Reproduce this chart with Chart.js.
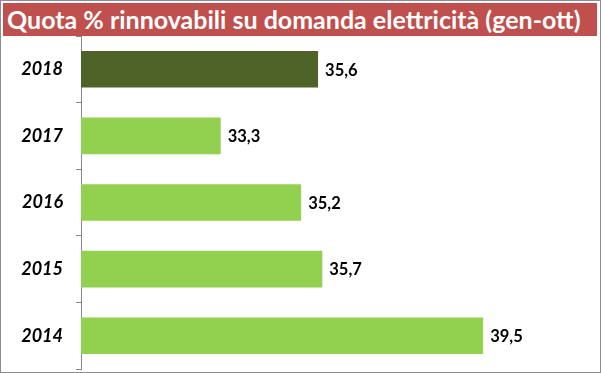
<!DOCTYPE html>
<html>
<head>
<meta charset="utf-8">
<script src="https://cdn.jsdelivr.net/npm/chart.js@4/dist/chart.umd.min.js"></script>
<style>
  html, body { margin: 0; padding: 0; background: #fff; }
  #frame { position: absolute; left: 0; top: 0; width: 599px; height: 371px; border: 1px solid #8c8c8c; }
  #banner { position: absolute; left: 3px; top: 3px; width: 594px; height: 33px; background: #C0504D;
    color: #fff; font-family: Lato, "Open Sans", sans-serif; font-weight: bold; font-size: 25px;
    line-height: 33px; white-space: nowrap; padding-left: 4px; box-sizing: border-box; overflow: hidden; }
  #wrap { position: absolute; left: 0; top: 0; width: 601px; height: 373px; }
</style>
</head>
<body>
<div id="frame"></div>
<div id="wrap"><canvas id="c" width="601" height="373"></canvas></div>
<div id="banner"></div>
<script>
const titleText = "Quota % rinnovabili su domanda elettricità (gen-ott)";
const categories = ["2018", "2017", "2016", "2015", "2014"];
const values = [35.6, 33.3, 35.2, 35.7, 39.5];
const barColors = ["#4F6228", "#92D050", "#92D050", "#92D050", "#92D050"];
const axisMin = 30;
const axisMax = 42;

document.getElementById('banner').textContent = titleText;

const valueLabels = {
  id: 'valueLabels',
  afterDatasetsDraw(chart) {
    const ctx = chart.ctx;
    const meta = chart.getDatasetMeta(0);
    ctx.save();
    ctx.font = 'bold 16.5px Lato, "Open Sans", sans-serif';
    ctx.fillStyle = '#000';
    ctx.textAlign = 'left';
    ctx.textBaseline = 'middle';
    meta.data.forEach((bar, i) => {
      const txt = values[i].toFixed(1).replace('.', ',');
      ctx.fillText(txt, bar.x + 7, bar.y + 1);
    });
    ctx.restore();
  }
};

new Chart(document.getElementById('c'), {
  type: 'bar',
  data: {
    labels: categories,
    datasets: [{
      data: values,
      backgroundColor: barColors,
      borderWidth: 0,
      categoryPercentage: 0.55,
      barPercentage: 1.0
    }]
  },
  options: {
    indexAxis: 'y',
    responsive: false,
    animation: false,
    layout: { padding: { left: 0, top: 36, right: 12, bottom: 4 } },
    plugins: { legend: { display: false }, tooltip: { enabled: false }, title: { display: false } },
    scales: {
      x: {
        display: false,
        min: axisMin,
        max: axisMax
      },
      y: {
        afterFit(scale) { scale.width = 81; scale.paddingTop = 0; scale.paddingBottom = 0; },
        grid: {
          offset: true,
          drawOnChartArea: false,
          drawTicks: true,
          tickLength: 5,
          color: '#868686',
          lineWidth: 1
        },
        border: { display: true, color: '#868686', width: 1 },
        ticks: {
          color: '#000',
          padding: 13,
          font: { family: 'Lato, "Open Sans", sans-serif', size: 18, weight: 'bold', style: 'italic' }
        }
      }
    }
  },
  plugins: [valueLabels]
});
</script>
</body>
</html>
